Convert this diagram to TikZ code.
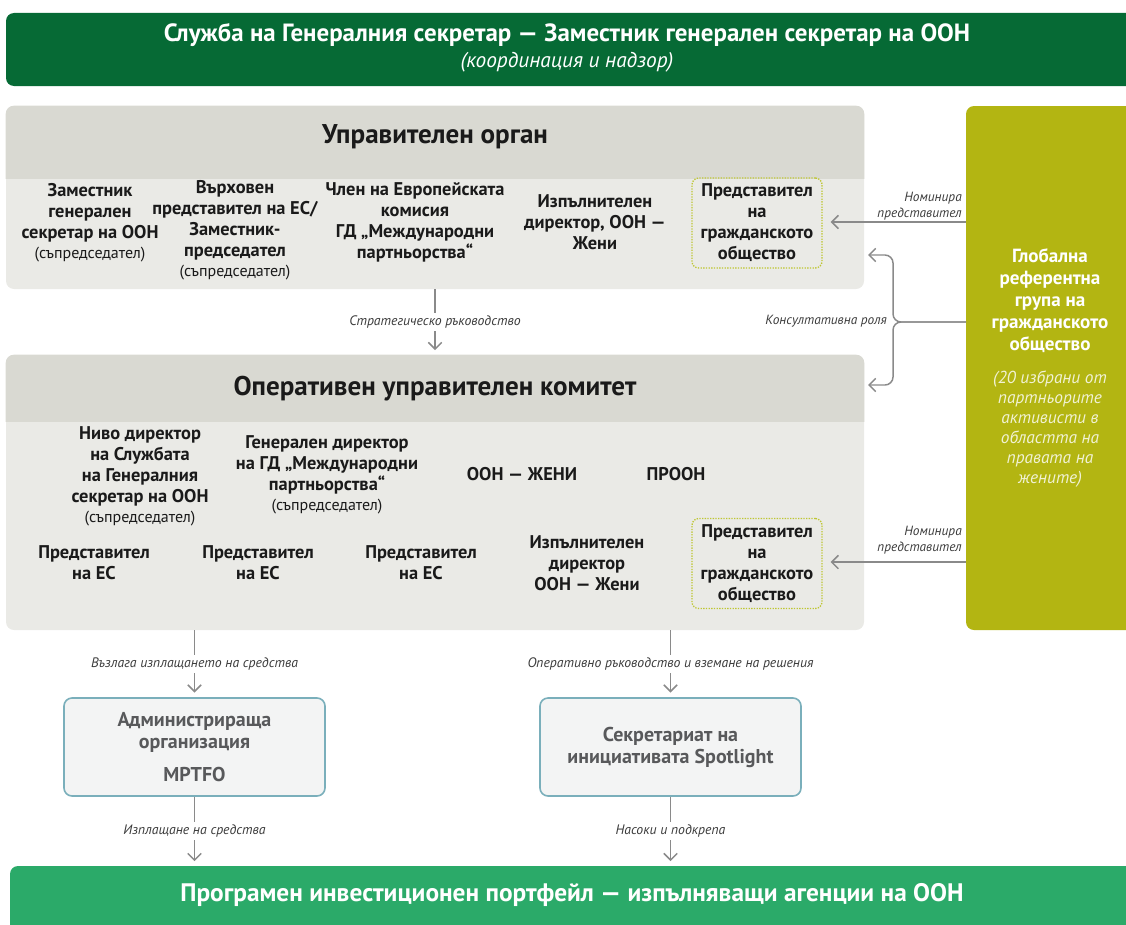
\documentclass[tikz,border=0pt]{standalone}
\usepackage{fontspec}
\setmainfont{PT Sans}
\usetikzlibrary{arrows.meta,fit}
\definecolor{dkgreen}{RGB}{6,106,53}
\definecolor{hdrgray}{RGB}{217,217,210}
\definecolor{bodygray}{RGB}{234,234,230}
\definecolor{olive}{RGB}{179,181,18}
\definecolor{botgreen}{RGB}{43,170,105}
\definecolor{arrgray}{RGB}{138,138,138}
\definecolor{boxedge}{RGB}{122,175,187}
\definecolor{boxfill}{RGB}{243,244,244}
\definecolor{boxtext}{RGB}{88,89,91}
\definecolor{dotedge}{RGB}{190,198,50}
\definecolor{ink}{RGB}{26,26,26}
\tikzset{
  arr/.style={draw=arrgray, line width=1.1pt, -{Straight Barb[length=5pt,width=10pt]}},
  lbl/.style={font=\fontsize{10.3}{12}\itshape, text=ink!85, fill=white, inner sep=2pt},
  member/.style={align=center, font=\fontsize{13.8}{15.75}\bfseries, text=ink, inner sep=0pt},
  civbox/.style={member, draw=dotedge, line width=1pt, dash pattern=on 1pt off 1pt, rounded corners=5pt, minimum width=97.5pt, minimum height=67.5pt},
  grouptitle/.style={font=\fontsize{20.3}{23}\bfseries, text=ink},
  subbox/.style={draw=boxedge, line width=1.2pt, fill=boxfill, rounded corners=6pt, minimum width=195.75pt, minimum height=73.5pt, align=center, font=\fontsize{15}{16.5}\bfseries, text=boxtext},
  nomlbl/.style={align=right, anchor=south east, font=\fontsize{10}{12}\itshape, text=ink!85, inner sep=0pt}
}
\newcommand{\cochair}{\\[-1pt]{\fontsize{12}{13}\mdseries (съпредседател)}}
\begin{document}
\begin{tikzpicture}[x=0.75pt,y=-0.75pt]
\useasboundingbox (0,0) rectangle (1126,924);
% top banner
\node[fit={(6,13) (1134,86)}, inner sep=0pt, fill=dkgreen, rounded corners=6pt] (top) {};
\node[font=\fontsize{18.7}{21}\bfseries, text=white] (toptitle) at (567,35) {Служба на Генералния секретар — Заместник генерален секретар на ООН};
\node[font=\fontsize{16}{18}\itshape, text=white] (topsub) at (567,62) {(координация и надзор)};
% governing body
\node[fit={(6,106) (864,289)}, inner sep=0pt, fill=bodygray, rounded corners=6pt] (gov) {};
\begin{scope}
\clip (0,0) rectangle (1126,178);
\fill[hdrgray, rounded corners=6pt] (gov.south west) rectangle (gov.north east);
\end{scope}
\node[grouptitle] (govtitle) at (435,137) {Управителен орган};
\node[member] (m1) at (90,222.5) {Заместник\\генерален\\секретар на ООН\cochair};
\node[member] (m2) at (235,230) {Върховен\\представител на ЕС/\\Заместник-\\председател\cochair};
\node[member] (m3) at (415,222.5) {Член на Европейската\\комисия\\ГД „Международни\\партньорства“};
\node[member] (m4) at (595,222) {Изпълнителен\\директор, ООН —\\Жени};
\node[civbox] (civ1) at (757,223) {Представител\\на\\гражданското\\общество};
% operational committee
\node[fit={(6,355) (864,630)}, inner sep=0pt, fill=bodygray, rounded corners=6pt] (ops) {};
\begin{scope}
\clip (0,0) rectangle (1126,421);
\fill[hdrgray, rounded corners=6pt] (ops.south west) rectangle (ops.north east);
\end{scope}
\node[grouptitle] (opstitle) at (435,389) {Оперативен управителен комитет};
\node[member] (n1) at (140,476) {Ниво директор\\на Службата\\на Генералния\\секретар на ООН\cochair};
\node[member] (n2) at (327,475) {Генерален директор\\на ГД „Международни\\партньорства“\cochair};
\node[member] (n3) at (522,474) {ООН — ЖЕНИ};
\node[member] (n4) at (676,474) {ПРООН};
\node[member] (e1) at (94,563) {Представител\\на ЕС};
\node[member] (e2) at (258,563) {Представител\\на ЕС};
\node[member] (e3) at (421,563) {Представител\\на ЕС};
\node[member] (e4) at (587,563) {Изпълнителен\\директор\\ООН — Жени};
\node[civbox] (civ2) at (757,563.5) {Представител\\на\\гражданското\\общество};
% global reference group
\node[fit={(966,106) (1134,630)}, inner sep=0pt, fill=olive, rounded corners=6pt] (glob) {};
\node[align=center, text=white, font=\fontsize{14.3}{16.5}\bfseries] (globt) at (1050,301) {Глобална\\референтна\\група на\\гражданското\\общество};
\node[align=center, text=white!82!olive, font=\fontsize{13}{15}\itshape] (globs) at (1050,429) {(20 избрани от\\партньорите\\активисти в\\областта на\\правата на\\жените)};
% sub boxes
\node[subbox] (adm) at (194.5,747) {Администрираща\\организация\\[8pt]MPTFO};
\node[subbox] (sec) at (670.5,747) {Секретариат на\\инициативата Spotlight};
% bottom banner
\node[fit={(10,866) (1134,935)}, inner sep=0pt, fill=botgreen, rounded corners=6pt] (bot) {};
\node[font=\fontsize{19}{22}\bfseries, text=white] (bottitle) at (572,895) {Програмен инвестиционен портфейл — изпълняващи агенции на ООН};
% connectors
\coordinate (g1) at (966,222);
\coordinate (g2) at (966,562);
\draw[arr] (g1) -- ([xshift=6pt]civ1.east |- g1);
\draw[arr] (g2) -- ([xshift=6pt]civ2.east |- g2);
\node[nomlbl] (nom1) at (962,220) {Номинира\\представител};
\node[nomlbl] (nom2) at (962,554) {Номинира\\представител};
\coordinate (k0) at (966,322);
\coordinate (kj) at (893,322);
\coordinate (k1) at (868,255);
\coordinate (k2) at (868,385);
\draw[arr, rounded corners=6pt] (k0) -- (kj) |- (k1);
\draw[arr, rounded corners=6pt] (k0) -- (kj) |- (k2);
\node[anchor=east, font=\fontsize{10}{12}\itshape, text=ink!85, inner sep=0pt] (kons) at (887,321) {Консултативна роля};
\draw[arr, shorten >=3.5pt] (gov.south) -- node[lbl] (l1) {Стратегическо ръководство} (ops.north);
\draw[arr, shorten >=3.5pt] (adm.north |- ops.south) -- node[lbl] (l2) {Възлага изплащането на средства} (adm.north);
\draw[arr, shorten >=3.5pt] (sec.north |- ops.south) -- node[lbl] (l3) {Оперативно ръководство и вземане на решения} (sec.north);
\draw[arr, shorten >=3.5pt] (adm.south) -- node[lbl] (l4) {Изплащане на средства} (adm.south |- bot.north);
\draw[arr, shorten >=3.5pt] (sec.south) -- node[lbl] (l5) {Насоки и подкрепа} (sec.south |- bot.north);
\end{tikzpicture}
\end{document}
